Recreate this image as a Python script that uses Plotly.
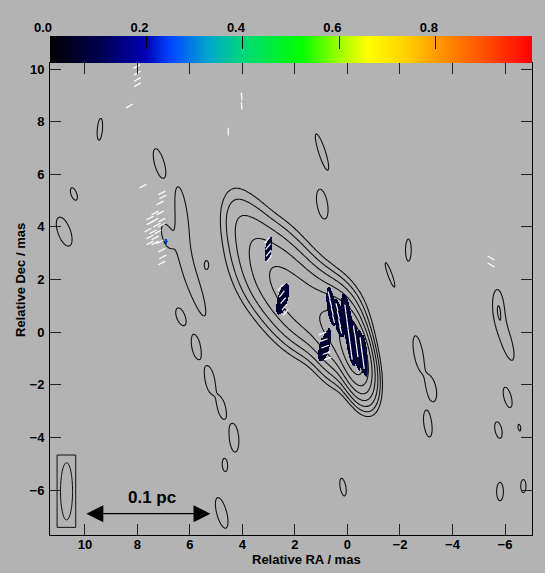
import numpy as np
import plotly.graph_objects as go

# ---- total intensity model: gaussian components (RA, Dec, peak, sigma_along, sigma_across, PA) ----
# peak in units of the lowest contour
jet_ra = [-0.25, 0.40, 1.15, 1.90, 2.60, 3.15, 3.70, 4.30]
jet_dec = [-0.85, -0.05, 0.55, 1.25, 2.05, 2.95, 3.85, 4.40]
jet_peak = [100, 30, 15, 14, 11, 6.5, 3, 1.6]
jet_sig_a = [0.80, 0.85, 0.75, 0.75, 0.75, 0.80, 0.85, 0.80]
jet_sig_b = [0.30, 0.50, 0.70, 0.70, 0.70, 0.70, 0.50, 0.40]
jet_pa = [15, 12, 20, 20, 20, 18, 10, 5]

# isolated low-level islands (RA, Dec, semi along, semi across, PA)
isl_ra = [9.43, 10.42, 10.79, 7.17, 6.89, 6.30, 5.87, 5.37, 6.35, 5.77, 5.24, 4.79, 4.32, 4.67, 4.79,
          0.97, 0.96, -1.62, -2.32, -2.70, -3.21, -3.06, -5.76, -6.04, -6.10, -5.75, -6.55, -5.81, -6.70, 0.17]
isl_dec = [7.71, 5.25, 3.82, 6.42, 3.66, 4.32, 1.85, 2.55, 0.59, -0.55, -1.82, -2.89, -4.02, -5.05, -6.87,
           6.85, 4.87, 2.18, 3.12, -0.80, -2.17, -3.49, 1.03, -0.30, -2.48, -3.72, -3.63, -6.06, -5.85, -5.89]
isl_a = [0.42, 0.25, 0.58, 0.57, 0.42, 1.20, 1.30, 0.16, 0.35, 0.45, 0.52, 0.38, 0.54, 0.25, 0.60,
         0.72, 0.57, 0.50, 0.42, 0.67, 0.46, 0.50, 0.57, 0.80, 0.40, 0.32, 0.13, 0.35, 0.25, 0.34]
isl_b = [0.10, 0.11, 0.24, 0.18, 0.16, 0.22, 0.22, 0.08, 0.16, 0.16, 0.18, 0.14, 0.18, 0.10, 0.19,
         0.13, 0.20, 0.08, 0.11, 0.17, 0.17, 0.15, 0.18, 0.20, 0.14, 0.13, 0.05, 0.13, 0.10, 0.11]
isl_pa = [-5, 20, 20, 15, 15, 7, 19, 0, 20, 10, 10, 10, 5, 5, 15,
          18, 10, 20, 0, 10, 10, 8, 5, 17, 15, 12, 10, 0, 0, 10]

# ---- fractional polarisation patches (RA, Dec, semi along, semi across, PA, value) ----
pol_ra = [3.02, 2.47, 0.87, 0.63, 0.34, -0.04, -0.32, -0.57, 6.91]
pol_dec = [3.16, 1.26, -0.49, 0.96, 0.54, 0.08, -0.51, -0.79, 3.44]
pol_a = [0.48, 0.60, 0.65, 0.75, 0.75, 1.40, 0.95, 0.90, 0.12]
pol_b = [0.13, 0.19, 0.19, 0.17, 0.18, 0.19, 0.17, 0.16, 0.05]
pol_pa = [-10, -15, -15, 8, 10, 8, 8, 8, 0]
pol_val = [0.07, 0.07, 0.07, 0.08, 0.07, 0.08, 0.07, 0.08, 0.24]

# ---- EVPA vectors (RA, Dec, EVPA deg E of N) ----
vec_ra = [0.70, 0.64, 0.58, 0.53, 0.40, 0.35, 0.30, 0.26,
          0.08, 0.04, 0.00, -0.04, -0.08, -0.12, -0.16,
          -0.25, -0.30, -0.34, -0.38, -0.50, -0.54, -0.58, -0.62,
          0.95, 0.90, 0.85, 0.80, 0.75,
          2.55, 2.50, 2.45, 2.40, 2.35,
          3.05, 3.02, 3.00, 2.98,
          8.02, 8.00, 8.00, 8.00, 8.30,
          7.79, 7.07, 7.03, 7.14, 7.33, 7.14, 7.52, 7.33, 7.07, 7.52, 7.26, 7.07,
          7.60, 7.41, 7.22, 7.52, 7.33, 7.52, 7.33, 7.14, 7.07, 7.03, 7.07,
          4.03, 4.03, 4.54, -5.47, -5.47]
vec_dec = [1.40, 1.10, 0.80, 0.50, 0.95, 0.65, 0.35, 0.10,
           0.90, 0.60, 0.30, 0.00, -0.30, -0.60, -0.90,
           0.10, -0.20, -0.50, -0.80, -0.35, -0.65, -0.95, -1.25,
           -0.05, -0.30, -0.55, -0.80, -1.00,
           1.70, 1.45, 1.20, 0.95, 0.75,
           3.50, 3.25, 3.00, 2.80,
           10.10, 9.85, 9.60, 9.40, 8.60,
           5.55, 5.29, 5.14, 4.91, 4.53, 4.53, 4.34, 4.26, 4.26, 4.15, 4.07, 4.07,
           3.88, 3.81, 3.81, 3.62, 3.58, 3.39, 3.39, 3.43, 3.12, 2.86, 2.63,
           8.95, 8.60, 7.62, 2.82, 2.55]
vec_evpa = [15] * 8 + [8] * 15 + [-70] * 5 + [-40] * 9 + [-60] * 5 + [-62] * 23 + [5, 5, 0, 60, 60]
vec_len = 0.3

beam_ra, beam_dec, beam_semi_ra, beam_semi_dec = 10.70, -6.05, 0.23, 1.09
box_ra, box_dec = [11.06, 10.35], [-4.67, -7.42]
bar_ra0, bar_ra1, bar_dec = 10.0, 5.22, -6.9

cbar_ticks = [0.0, 0.2, 0.4, 0.6, 0.8]
cscale = [[0.0, '#000000'], [0.1, '#00004a'], [0.2, '#0000b4'], [0.25, '#0048ff'],
          [0.33, '#00a8c8'], [0.4, '#00d878'], [0.52, '#00ff00'], [0.6, '#a0ff00'],
          [0.66, '#ffff00'], [0.74, '#ffd000'], [0.8, '#ff9c00'], [0.9, '#ff5000'], [1.0, '#ff0000']]

# ---- build image ----
ra = np.arange(-7.1, 11.45, 0.04)
dec = np.arange(-7.8, 10.35, 0.04)
RA, DEC = np.meshgrid(ra, dec)


def rot(ra0, dec0, pa):
    p = np.radians(pa)
    dx, dy = RA - ra0, DEC - dec0
    return dx * np.sin(p) + dy * np.cos(p), dx * np.cos(p) - dy * np.sin(p)


img = np.zeros_like(RA)
for r0, d0, a, sa, sb, pa in zip(jet_ra, jet_dec, jet_peak, jet_sig_a, jet_sig_b, jet_pa):
    u, v = rot(r0, d0, pa)
    img += a * np.exp(-0.5 * ((u / sa) ** 2 + (v / sb) ** 2))
for r0, d0, sa, sb, pa in zip(isl_ra, isl_dec, isl_a, isl_b, isl_pa):
    u, v = rot(r0, d0, pa)
    img += 1.65 * np.exp(-0.5 * ((u / sa) ** 2 + (v / sb) ** 2))
logimg = np.round(np.log2(np.maximum(img, 1e-3)), 3)

pol = np.full_like(RA, np.nan)
for r0, d0, sa, sb, pa, val in zip(pol_ra, pol_dec, pol_a, pol_b, pol_pa, pol_val):
    u, v = rot(r0, d0, pa)
    pol[(u / sa) ** 2 + (v / sb) ** 2 <= 1] = val
rows = np.where(~np.isnan(pol).all(axis=1))[0]
cols = np.where(~np.isnan(pol).all(axis=0))[0]
pol_sub = pol[rows.min():rows.max() + 1, cols.min():cols.max() + 1]

vx, vy = [], []
for r0, d0, chi in zip(vec_ra, vec_dec, vec_evpa):
    c = np.radians(chi)
    dr, dd = 0.5 * vec_len * np.sin(c), 0.5 * vec_len * np.cos(c)
    vx += [r0 - dr, r0 + dr, None]
    vy += [d0 - dd, d0 + dd, None]

fig = go.Figure()
fig.add_trace(go.Contour(
    x=ra, y=dec, z=logimg, showscale=False, hoverinfo='skip',
    contours=dict(coloring='none', start=0, end=6, size=1),
    line=dict(color='#111111', width=1.1)
))
fig.add_trace(go.Heatmap(
    x=ra[cols.min():cols.max() + 1], y=dec[rows.min():rows.max() + 1], z=pol_sub,
    colorscale=cscale, zmin=0, zmax=1, showscale=False, hoverinfo='skip'
))
fig.add_trace(go.Scatter(x=vx, y=vy, mode='lines', line=dict(color='white', width=1.2),
                         hoverinfo='skip', showlegend=False))

# colour wedge along the top
ramp = (np.arange(240) + 0.5) / 240
fig.add_trace(go.Heatmap(x=ramp, y=[0.5], z=[ramp], colorscale=cscale, zmin=0, zmax=1,
                         showscale=False, hoverinfo='skip', xaxis='x2', yaxis='y2'))

fig.add_shape(type='circle', xref='x', yref='y',
              x0=beam_ra - beam_semi_ra, x1=beam_ra + beam_semi_ra,
              y0=beam_dec - beam_semi_dec, y1=beam_dec + beam_semi_dec,
              line=dict(color='#111111', width=1))
fig.add_shape(type='rect', xref='x', yref='y', x0=box_ra[0], x1=box_ra[1], y0=box_dec[0], y1=box_dec[1],
              line=dict(color='#111111', width=1))

bold = dict(family='Liberation Sans, Arial, sans-serif', size=13, color='black', weight='bold')
fig.add_annotation(x=bar_ra1, y=bar_dec, ax=bar_ra0, ay=bar_dec, xref='x', yref='y', axref='x', ayref='y',
                   text='', showarrow=True, arrowside='end+start', arrowhead=2, startarrowhead=2,
                   arrowsize=2.6, startarrowsize=2.6, arrowwidth=1.3, arrowcolor='black')
fig.add_annotation(x=7.46, y=-6.30, xref='x', yref='y', text='0.1 pc', showarrow=False,
                   font=dict(bold, size=17))
fig.add_annotation(x=306 / 545, y=(573 - 559) / 573, xref='paper', yref='paper', text='Relative RA / mas',
                   showarrow=False, font=bold, xanchor='center', yanchor='middle')
fig.add_annotation(x=20 / 545, y=(573 - 280) / 573, xref='paper', yref='paper', text='Relative Dec / mas',
                   showarrow=False, textangle=-90, font=bold, xanchor='center', yanchor='middle')

axis_common = dict(showgrid=False, zeroline=False, ticks='inside', ticklen=11, tickcolor='#222222',
                   showline=True, linecolor='black', linewidth=1, mirror='ticks', tickfont=bold,
                   automargin=False)
fig.update_layout(
    template='none',
    width=545, height=573, autosize=False, margin=dict(l=0, r=0, t=0, b=0, pad=0),
    paper_bgcolor='#b3b3b3', plot_bgcolor='#b3b3b3', showlegend=False,
    xaxis=dict(axis_common, domain=[50 / 545, 532.3 / 545], range=[11.33, -7.04],
               tickvals=[10, 8, 6, 4, 2, 0, -2, -4, -6], ticklabelstandoff=-3),
    yaxis=dict(axis_common, domain=[(573 - 535) / 573, (573 - 63) / 573], range=[-7.71, 10.23],
               tickvals=[10, 8, 6, 4, 2, 0, -2, -4, -6], ticklabelstandoff=2),
    xaxis2=dict(domain=[50 / 545, 532.3 / 545], range=[0, 1], anchor='y2', side='top', showgrid=False,
                zeroline=False, ticks='inside', ticklen=13, tickcolor='black', tickvals=cbar_ticks,
                ticktext=['%.1f' % t for t in cbar_ticks], tickfont=bold, ticklabelshift=-7,
                automargin=False, showline=False),
    yaxis2=dict(domain=[(573 - 63) / 573, (573 - 36) / 573], range=[0, 1], anchor='x2',
                showticklabels=False, showgrid=False, zeroline=False, ticks='', automargin=False),
)

fig.write_html('out.html', post_script="document.body.style.margin='0';",
               config={'displayModeBar': False})
